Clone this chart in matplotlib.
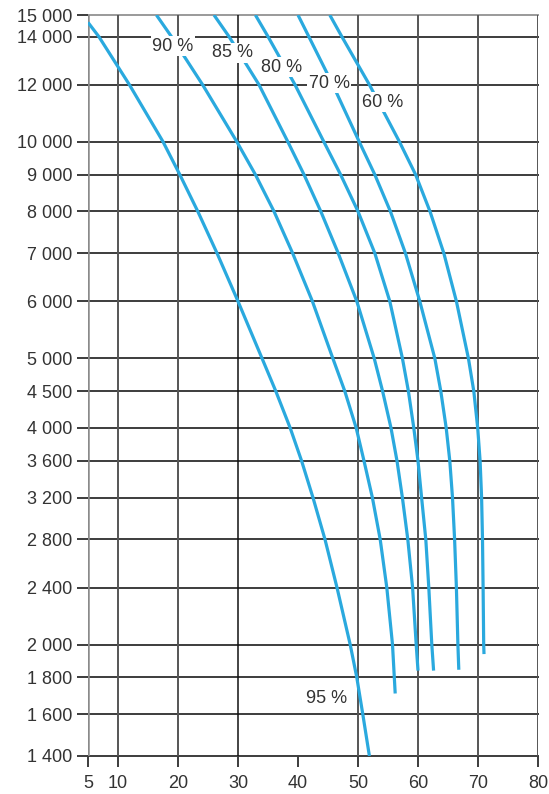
import matplotlib
matplotlib.use("Agg")
import matplotlib.pyplot as plt
from matplotlib.ticker import NullLocator

plt.rcParams['font.family'] = ['Liberation Sans', 'DejaVu Sans']

# axis ticks
y_ticks = [1400, 1600, 1800, 2000, 2400, 2800, 3200, 3600, 4000, 4500,
           5000, 6000, 7000, 8000, 9000, 10000, 12000, 14000, 15000]
x_ticks = [5, 10, 20, 30, 40, 50, 60, 70, 80]
x_grid = [5, 10, 20, 30, 50, 60, 70, 80]

# curves
c95_x = [5, 6.8, 11.9, 17.5, 20.3, 23.3, 26.5, 30, 34.0, 36.3, 38.7, 40.6, 42.5, 44.5, 46.5, 48.7, 49.8, 50.8, 51.9]
c95_y = [14650, 14000, 12000, 10000, 9000, 8000, 7000, 6000, 5000, 4500, 4000, 3600, 3200, 2800, 2400, 2000, 1800, 1600, 1400]

c90_x = [16.4, 18.9, 24.1, 29.8, 32.9, 36.0, 39.1, 42.4, 45.8, 47.8, 49.7, 51.0, 52.4, 53.7, 54.8, 55.75, 56.2]
c90_y = [15000, 14000, 12000, 10000, 9000, 8000, 7000, 6000, 5000, 4500, 4000, 3600, 3200, 2800, 2400, 2000, 1710]

c85_x = [26.0, 28.5, 33.5, 38.3, 41.0, 43.8, 46.7, 49.8, 52.7, 54.1, 55.5, 56.5, 57.4, 58.3, 59.1, 59.7, 60.0]
c85_y = [15000, 14000, 12000, 10000, 9000, 8000, 7000, 6000, 5000, 4500, 4000, 3600, 3200, 2800, 2400, 2000, 1840]

c80_x = [32.9, 35.0, 39.5, 44.3, 47.1, 50.0, 52.8, 55.3, 57.4, 58.4, 59.3, 60.0, 60.6, 61.3, 61.8, 62.3, 62.6]
c80_y = [15000, 14000, 12000, 10000, 9000, 8000, 7000, 6000, 5000, 4500, 4000, 3600, 3200, 2800, 2400, 2000, 1840]

c70_x = [40.0, 41.8, 45.8, 50.2, 52.8, 55.4, 57.9, 60.3, 62.8, 63.8, 64.7, 65.3, 65.75, 66.1, 66.4, 66.65, 66.8]
c70_y = [15000, 14000, 12000, 10000, 9000, 8000, 7000, 6000, 5000, 4500, 4000, 3600, 3200, 2800, 2400, 2000, 1845]

c60_x = [45.3, 47.3, 51.9, 56.9, 59.6, 62.0, 64.3, 66.4, 68.4, 69.3, 69.95, 70.35, 70.6, 70.75, 70.85, 70.95, 71.0]
c60_y = [15000, 14000, 12000, 10000, 9000, 8000, 7000, 6000, 5000, 4500, 4000, 3600, 3200, 2800, 2400, 2000, 1940]

labels = ['95 %', '90 %', '85 %', '80 %', '70 %', '60 %']
label_x = [44.8, 19.1, 29, 37.3, 45.2, 54.1]
label_y = [1685, 13580, 13300, 12700, 12050, 11350]

blue = '#2aa9de'
grid_col = '#3c3c3c'
text_col = '#333333'

fig = plt.figure(figsize=(5.49, 7.94), dpi=100)
ax = fig.add_axes([88 / 549, 1 - 756 / 794, 450 / 549, 741 / 794])
ax.set_yscale('log')
ax.set_xlim(5, 80)
ax.set_ylim(1400, 15000)

for s in ax.spines.values():
    s.set_visible(False)

# grid
for yv in y_ticks:
    c = '#9a9a9a' if yv == 15000 else grid_col
    ax.axhline(yv, color=c, lw=1.4, zorder=1, clip_on=False)
for xv in x_grid:
    if xv == 5:
        ax.axvline(xv, color='#8a8a8a', lw=1.8, zorder=1)
    elif xv == 30:
        ax.axvline(xv, color='#111111', lw=1.1, zorder=1)
    else:
        ax.axvline(xv, color='#555555', lw=1.4, zorder=1)

for cx, cy in [(c95_x, c95_y), (c90_x, c90_y), (c85_x, c85_y),
               (c80_x, c80_y), (c70_x, c70_y), (c60_x, c60_y)]:
    ax.plot(cx, cy, color=blue, lw=2.3, zorder=2, solid_capstyle='butt',
            solid_joinstyle='round')

for t, lx, ly in zip(labels, label_x, label_y):
    ax.text(lx, ly, t, fontsize=13, color=text_col, ha='center', va='center', zorder=3,
            bbox=dict(facecolor='white', edgecolor='none', pad=1.0))

ax.yaxis.set_minor_locator(NullLocator())
ax.xaxis.set_minor_locator(NullLocator())
ax.set_yticks(y_ticks)
ax.set_yticklabels([f"{v:,}".replace(',', ' ') for v in y_ticks])
ax.set_xticks(x_ticks)
ax.set_xticklabels([str(v) for v in x_ticks])
ax.tick_params(axis='both', length=8, width=1.4, color=grid_col, labelsize=13,
               labelcolor=text_col)
ax.tick_params(axis='y', pad=3.5)
ax.tick_params(axis='x', pad=6)

fig.savefig('out.png', dpi=100)
